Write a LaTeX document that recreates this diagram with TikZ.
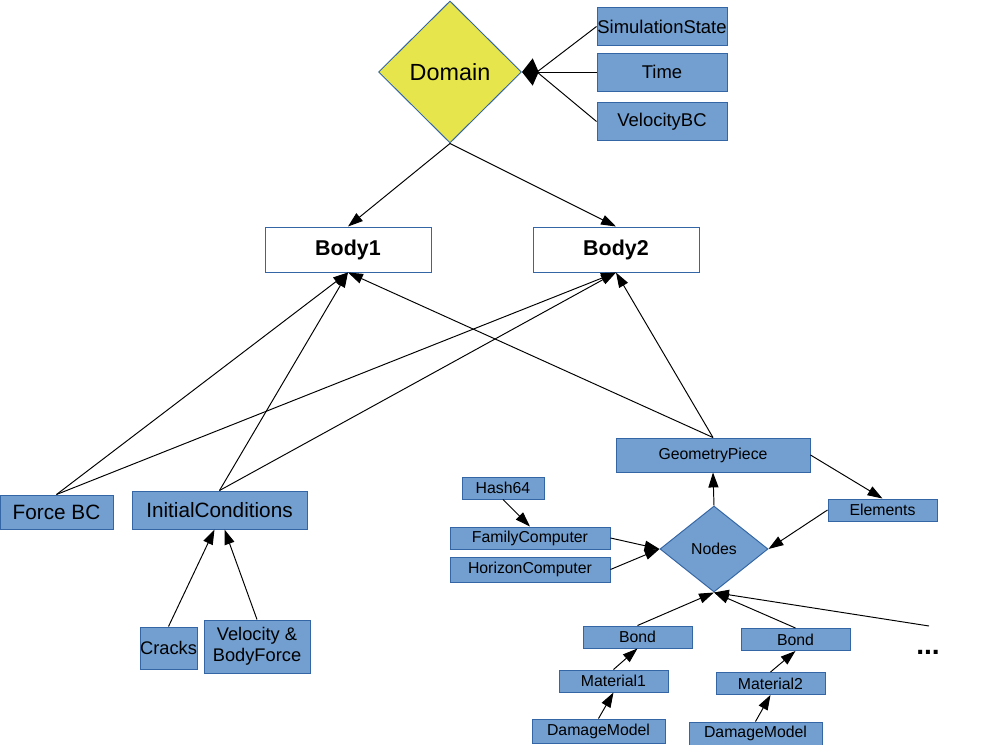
\documentclass[tikz,border=0pt]{standalone}
\usepackage{fontspec}
\setmainfont{Liberation Sans}
\usetikzlibrary{arrows.meta,shapes.geometric}
\definecolor{Box_Fill}{HTML}{729FCF}
\definecolor{Box_Line}{HTML}{3465A4}
\definecolor{Domain_Yellow}{HTML}{E6E64C}

\begin{document}
\begin{tikzpicture}[>={Triangle[length=8.5pt,width=5.7pt]}, line width=0.55pt,
    box/.style={draw=Box_Line, fill=Box_Fill, inner sep=0pt, align=center},
    bodybox/.style={draw=Box_Line, fill=white, inner sep=0pt, minimum width=3.32cm, minimum height=0.9cm, font=\fontsize{12.2}{14}\selectfont\bfseries},
    topbox/.style={box, minimum width=2.6cm, minimum height=0.76cm, font=\fontsize{10.5}{12}\selectfont},
    smallbox/.style={box, minimum width=2.18cm, minimum height=0.44cm, font=\fontsize{9}{10}\selectfont}]
    \useasboundingbox (0,0) rectangle (19.96,-14.9);

    % Domain and its parts
    \node[diamond, draw=Box_Line, fill=Domain_Yellow, inner sep=0pt, minimum width=2.86cm, minimum height=2.84cm, font=\fontsize{13.3}{15}\selectfont] (domain) at (9.0,-1.44) {Domain};
    \node[topbox] (simstate) at (13.24,-0.53) {SimulationState};
    \node[topbox] (time) at (13.24,-1.44) {Time};
    \node[topbox] (velbc) at (13.24,-2.43) {VelocityBC};
    \coordinate (agg) at (10.74,-1.44);

    % Bodies
    \node[bodybox] (body1) at (6.96,-4.99) {Body1};
    \node[bodybox] (body2) at (12.32,-4.99) {Body2};

    % Left group
    \node[box, minimum width=2.26cm, minimum height=0.68cm, font=\fontsize{11.8}{13}\selectfont] (forcebc) at (1.13,-10.24) {Force BC};
    \node[box, minimum width=3.5cm, minimum height=0.76cm, font=\fontsize{11.8}{13}\selectfont] (initcond) at (4.39,-10.2) {InitialConditions};
    \node[box, minimum width=1.14cm, minimum height=0.84cm, font=\fontsize{10.4}{12}\selectfont] (cracks) at (3.37,-12.96) {Cracks};
    \node[box, minimum width=2.12cm, minimum height=1.06cm, font=\fontsize{10.4}{12}\selectfont] (velbf) at (5.14,-12.93) {Velocity \&\\BodyForce};

    % Right group
    \node[smallbox, minimum width=3.88cm, minimum height=0.68cm] (geompiece) at (14.26,-9.1) {GeometryPiece};
    \node[smallbox, minimum width=1.64cm] (hash) at (10.06,-9.76) {Hash64};
    \node[smallbox, minimum width=3.2cm] (famcomp) at (10.6,-10.76) {FamilyComputer};
    \node[smallbox, minimum width=3.2cm, minimum height=0.5cm] (horcomp) at (10.6,-11.39) {HorizonComputer};
    \node[diamond, draw=Box_Line, fill=Box_Fill, inner sep=0pt, minimum width=2.16cm, minimum height=1.72cm, font=\fontsize{9}{10}\selectfont] (nodes) at (14.28,-10.98) {Nodes};
    \node[smallbox] (elements) at (17.65,-10.2) {Elements};

    % Bonds
    \node[smallbox] (bond1) at (12.75,-12.74) {Bond};
    \node[smallbox] (bond2) at (15.91,-12.79) {Bond};
    \node[smallbox] (mat1) at (12.27,-13.62) {Material1};
    \node[smallbox] (mat2) at (15.41,-13.67) {Material2};
    \node[smallbox, minimum width=2.66cm, minimum height=0.48cm] (damage1) at (11.97,-14.62) {DamageModel};
    \node[smallbox, minimum width=2.66cm, minimum height=0.46cm] (damage2) at (15.11,-14.67) {DamageModel};
    \node[font=\fontsize{16}{16}\selectfont\bfseries] (dots) at (18.56,-13.04) {...};
    \coordinate (more) at (18.58,-12.52);

    % Connectors
    \draw[-{Kite[length=9.5pt,width=15.5pt,inset=3.4pt]}] (time.west) -- (domain.east);
    \draw (simstate.west) -- (agg);
    \draw (velbc.west) -- (agg);
    \draw[->] (domain.south) -- (body1.north);
    \draw[->] (domain.south) -- (body2.north);
    \draw[->] (forcebc.north) -- (body1.south);
    \draw[->] (forcebc.north) -- (body2.south);
    \draw[->] (initcond.north) -- (body1.south);
    \draw[->] (initcond.north) -- (body2.south);
    \draw[->] (geompiece.north) -- (body1.south);
    \draw[->] (geompiece.north) -- (body2.south);
    \draw[->] (cracks.north) -- ([xshift=-0.1cm]initcond.south);
    \draw[->] (velbf.north) -- ([xshift=0.1cm]initcond.south);
    \draw[->] (nodes.north) -- (geompiece.south);
    \draw[->] (geompiece.east) -- (elements.north);
    \draw[->] (elements.west) -- (nodes.east);
    \draw[->] (hash.south) -- (famcomp.north);
    \draw[->] (famcomp.east) -- (nodes.west);
    \draw[->] (horcomp.east) -- (nodes.west);
    \draw[->] (bond1.north) -- (nodes.south);
    \draw[->] (bond2.north) -- (nodes.south);
    \draw[->] (more) -- (nodes.south);
    \draw[->] (mat1.north) -- (bond1.south);
    \draw[->] (mat2.north) -- (bond2.south);
    \draw[->] (damage1.north) -- (mat1.south);
    \draw[->] (damage2.north) -- (mat2.south);

\end{tikzpicture}
\end{document}
